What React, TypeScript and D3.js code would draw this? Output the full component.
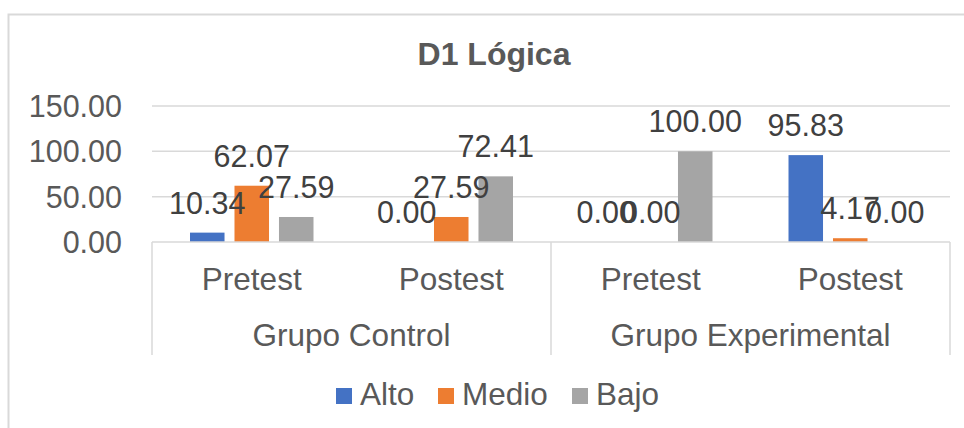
import React from "react";
import * as d3 from "d3";

const groups = ["Grupo Control", "Grupo Experimental"];
const phases = ["Pretest", "Postest"];
const seriesNames = ["Alto", "Medio", "Bajo"];
const seriesColors = ["#4472C4", "#ED7D31", "#A5A5A5"];
// values per category (Control-Pretest, Control-Postest, Exp-Pretest, Exp-Postest)
const alto = [10.34, 0.0, 0.0, 95.83];
const medio = [62.07, 27.59, 0.0, 4.17];
const bajo = [27.59, 72.41, 100.0, 0.0];
const yTicks = [0, 50, 100, 150];

const W = 964;
const H = 428;
const plotL = 152;
const plotR = 950;
const plotT = 106;
const plotB = 242;
const FONT = "'Liberation Sans', Arial, sans-serif";
const NUM_FS = 30.5;
const WORD_FS = 31.5;

export default function App() {
  const series = [alto, medio, bajo];
  const cats = groups.flatMap((g) => phases.map((p) => `${g}|${p}`));
  const x0 = d3.scaleBand<string>().domain(cats).range([plotL, plotR]).paddingInner(0).paddingOuter(0);
  const bw = x0.bandwidth();
  const barW = bw * 0.173;
  const barGap = bw * 0.05;
  const clusterW = barW * 3 + barGap * 2;
  const x1 = (ci: number, si: number) => (x0(cats[ci]) as number) + (bw - clusterW) / 2 + si * (barW + barGap);
  const y = d3.scaleLinear().domain([0, 150]).range([plotB, plotT]);
  const gx = d3.scaleBand<string>().domain(groups).range([plotL, plotR]);

  const legendX = [336, 438, 572];

  return (
    <div style={{ position: "fixed", left: 0, top: 0 }}>
      <svg width={W} height={H} style={{ display: "block", background: "#fff" }} fontFamily={FONT}>
        <rect x={8.5} y={14.5} width={W + 10} height={H + 10} fill="#fff" stroke="#d9d9d9" strokeWidth={2} />
        <text x={494} y={65} textAnchor="middle" fontWeight="bold" fontSize={32} fill="#595959">
          D1 Lógica
        </text>
        {yTicks.filter((t) => t > 0).map((t) => (
          <line key={t} x1={plotL} x2={plotR} y1={y(t)} y2={y(t)} stroke="#d9d9d9" strokeWidth={1.5} />
        ))}
        {yTicks.map((t) => (
          <text key={t} x={122} y={y(t) + 11} textAnchor="end" fontSize={NUM_FS} fill="#595959">
            {d3.format(".2f")(t)}
          </text>
        ))}
        {series.map((vals, si) =>
          vals.map((v, ci) => (
            <rect key={`${si}-${ci}`} x={x1(ci, si)} y={y(v)} width={barW} height={y(0) - y(v)} fill={seriesColors[si]} />
          ))
        )}
        <line x1={plotL} x2={plotR} y1={plotB} y2={plotB} stroke="#d9d9d9" strokeWidth={1.5} />
        {[plotL, (gx(groups[1]) as number), plotR].map((lx, i) => (
          <line key={i} x1={lx} x2={lx} y1={plotB} y2={355} stroke="#d9d9d9" strokeWidth={1.5} />
        ))}
        {cats.map((c) => (
          <text key={c} x={(x0(c) as number) + bw / 2} y={290} textAnchor="middle" fontSize={WORD_FS} fill="#595959">
            {c.split("|")[1]}
          </text>
        ))}
        {groups.map((g) => (
          <text key={g} x={(gx(g) as number) + gx.bandwidth() / 2} y={346} textAnchor="middle" fontSize={WORD_FS} fill="#595959">
            {g}
          </text>
        ))}
        {series.map((vals, si) =>
          vals.map((v, ci) => (
            <text key={`l${si}-${ci}`} x={x1(ci, si) + barW / 2} y={y(v) - 19} textAnchor="middle" fontSize={NUM_FS} fill="#404040">
              {d3.format(".2f")(v)}
            </text>
          ))
        )}
        {seriesNames.map((n, i) => (
          <g key={n}>
            <rect x={legendX[i]} y={388} width={16} height={16} fill={seriesColors[i]} />
            <text x={legendX[i] + 24} y={405} fontSize={WORD_FS} fill="#595959">
              {n}
            </text>
          </g>
        ))}
      </svg>
    </div>
  );
}
